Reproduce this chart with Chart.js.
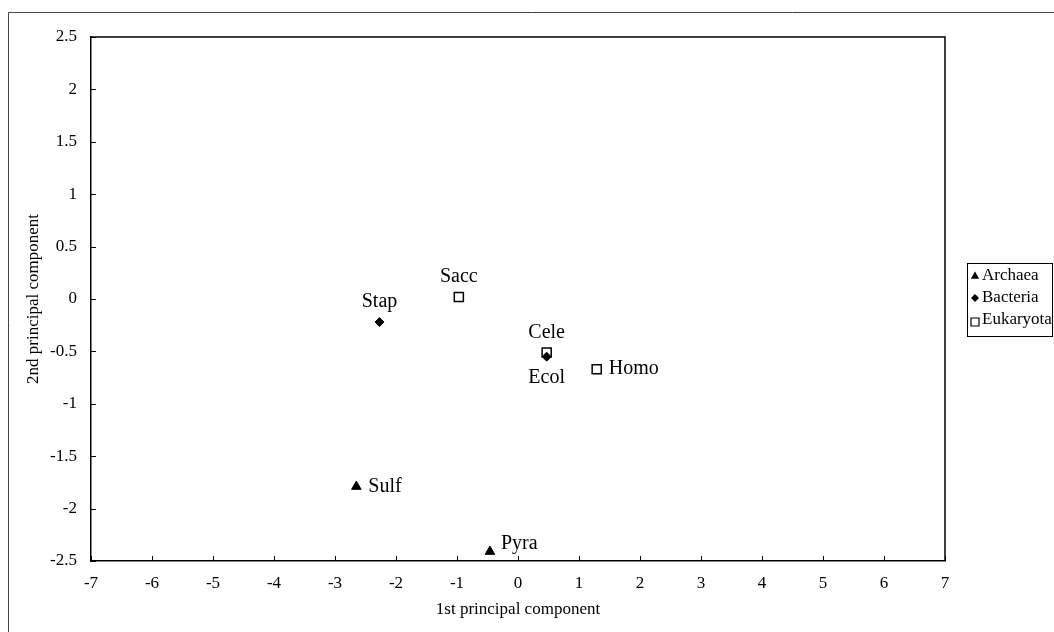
<!DOCTYPE html>
<html>
<head>
<meta charset="utf-8">
<script src="https://cdn.jsdelivr.net/npm/chart.js@4/dist/chart.umd.min.js"></script>
<style>
  html, body { margin: 0; padding: 0; background: #ffffff; }
  canvas { display: block; }
</style>
</head>
<body>
<canvas id="pca" width="1054" height="632"></canvas>
<script>
// Principal component scores per organism, grouped by domain
const categories = ['Archaea', 'Bacteria', 'Eukaryota'];

const archaeaNames = ['Sulf', 'Pyra'];
const archaeaX = [-2.65, -0.46];
const archaeaY = [-1.79, -2.41];

const bacteriaNames = ['Stap', 'Ecol'];
const bacteriaX = [-2.27, 0.47];
const bacteriaY = [-0.22, -0.55];

const eukaryotaNames = ['Sacc', 'Cele', 'Homo'];
const eukaryotaX = [-0.97, 0.47, 1.29];
const eukaryotaY = [0.02, -0.51, -0.67];

const xTickValues = [-7, -6, -5, -4, -3, -2, -1, 0, 1, 2, 3, 4, 5, 6, 7];
const yTickValues = [-2.5, -2, -1.5, -1, -0.5, 0, 0.5, 1, 1.5, 2, 2.5];

// Where each organism name sits relative to its marker
const labelSide = {
  Sulf: 'right', Pyra: 'upright', Stap: 'above', Ecol: 'below',
  Sacc: 'above', Cele: 'above', Homo: 'right'
};

const SERIF = "'Liberation Serif', 'Times New Roman', serif";
Chart.defaults.font.family = SERIF;
Chart.defaults.color = '#000000';

const toPoints = (xs, ys) => xs.map((x, i) => ({ x: x, y: ys[i] }));

const datasets = [
  {
    label: categories[0], names: archaeaNames,
    data: toPoints(archaeaX, archaeaY),
    pointStyle: 'triangle', pointRadius: 5.5,
    backgroundColor: '#000000', borderColor: '#000000', borderWidth: 1
  },
  {
    label: categories[1], names: bacteriaNames,
    data: toPoints(bacteriaX, bacteriaY),
    pointStyle: 'rectRot', pointRadius: 4.5,
    backgroundColor: '#000000', borderColor: '#000000', borderWidth: 1
  },
  {
    label: categories[2], names: eukaryotaNames,
    data: toPoints(eukaryotaX, eukaryotaY),
    pointStyle: 'rect', pointRadius: 6.4,
    backgroundColor: 'rgba(0,0,0,0)', borderColor: '#000000', borderWidth: 1.5
  }
];

// Outer frame, plot box, inward tick marks, point names and the legend
const decorations = {
  id: 'decorations',
  beforeDraw(chart) {
    const ctx = chart.ctx;
    ctx.save();
    ctx.fillStyle = '#ffffff';
    ctx.fillRect(0, 0, chart.width, chart.height);
    ctx.strokeStyle = '#444444';
    ctx.lineWidth = 1;
    ctx.beginPath();
    ctx.moveTo(8.5, chart.height);
    ctx.lineTo(8.5, 12.5);
    ctx.lineTo(chart.width, 12.5);
    ctx.stroke();
    ctx.restore();
  },
  afterDraw(chart) {
    const ctx = chart.ctx;
    const a = chart.chartArea;
    const xs = chart.scales.x;
    const ys = chart.scales.y;
    ctx.save();
    ctx.strokeStyle = '#000000';
    ctx.lineWidth = 1.5;
    ctx.beginPath();
    ctx.moveTo(a.left, a.top);
    ctx.lineTo(a.right, a.top);
    ctx.lineTo(a.right, a.bottom);
    ctx.stroke();

    ctx.lineWidth = 1;
    ctx.beginPath();
    xTickValues.forEach(v => {
      const px = Math.round(xs.getPixelForValue(v)) + 0.5;
      ctx.moveTo(px, a.bottom);
      ctx.lineTo(px, a.bottom - 5);
    });
    yTickValues.forEach(v => {
      const py = Math.round(ys.getPixelForValue(v)) + 0.5;
      ctx.moveTo(a.left, py);
      ctx.lineTo(a.left + 5, py);
    });
    ctx.stroke();

    // organism names
    ctx.fillStyle = '#000000';
    ctx.font = '20px ' + SERIF;
    chart.data.datasets.forEach((ds, di) => {
      const meta = chart.getDatasetMeta(di);
      meta.data.forEach((el, i) => {
        const name = ds.names[i];
        const side = labelSide[name];
        let tx = el.x, ty = el.y;
        ctx.textBaseline = 'middle';
        if (side === 'above') { ctx.textAlign = 'center'; ty -= 20; }
        else if (side === 'below') { ctx.textAlign = 'center'; ty += 21; }
        else if (side === 'right') { ctx.textAlign = 'left'; tx += 12; }
        else if (side === 'upright') { ctx.textAlign = 'left'; tx += 11; ty -= 8; }
        ctx.fillText(name, tx, ty);
      });
    });

    // legend
    const lx = 967, ly = 263, lw = 85, lh = 73, row = 22;
    ctx.lineWidth = 1;
    ctx.strokeStyle = '#000000';
    ctx.strokeRect(lx + 0.5, ly + 0.5, lw, lh);
    ctx.font = '17px ' + SERIF;
    ctx.textAlign = 'left';
    ctx.textBaseline = 'middle';
    chart.data.datasets.forEach((ds, i) => {
      const cy = ly + 13 + i * row;
      const mx = lx + 8;
      ctx.beginPath();
      if (ds.pointStyle === 'triangle') {
        ctx.moveTo(mx, cy - 4.5);
        ctx.lineTo(mx + 4.2, cy + 2.8);
        ctx.lineTo(mx - 4.2, cy + 2.8);
        ctx.closePath();
        ctx.fill();
      } else if (ds.pointStyle === 'rectRot') {
        ctx.moveTo(mx, cy - 4);
        ctx.lineTo(mx + 4, cy);
        ctx.lineTo(mx, cy + 4);
        ctx.lineTo(mx - 4, cy);
        ctx.closePath();
        ctx.fill();
      } else {
        ctx.lineWidth = 1.2;
        ctx.rect(mx - 4, cy - 2, 8, 8);
        ctx.stroke();
      }
      ctx.fillText(ds.label, lx + 15, cy);
    });
    ctx.restore();
  }
};

new Chart(document.getElementById('pca'), {
  type: 'scatter',
  data: { datasets: datasets },
  plugins: [decorations],
  options: {
    responsive: false,
    animation: false,
    devicePixelRatio: 1,
    layout: { padding: { left: 0, right: 109, top: 37, bottom: 0 } },
    plugins: { legend: { display: false }, tooltip: { enabled: false } },
    scales: {
      x: {
        type: 'linear', position: 'bottom', min: -7, max: 7,
        afterBuildTicks: s => { s.ticks = xTickValues.map(v => ({ value: v })); },
        afterFit: s => { s.height = 71; },
        grid: { display: false, drawTicks: false },
        border: { display: true, color: '#000000', width: 1.5 },
        ticks: { font: { size: 17 }, padding: 12, maxRotation: 0, callback: v => String(v) },
        title: { display: true, text: '1st principal component', font: { size: 17 }, padding: { top: 12, bottom: 12 } }
      },
      y: {
        type: 'linear', position: 'left', min: -2.5, max: 2.5,
        afterBuildTicks: s => { s.ticks = yTickValues.map(v => ({ value: v })); },
        afterFit: s => { s.width = 91; },
        grid: { display: false, drawTicks: false },
        border: { display: true, color: '#000000', width: 1.5 },
        ticks: { font: { size: 17 }, padding: 14, callback: v => String(v) },
        title: { display: true, text: '2nd principal component', font: { size: 17 }, padding: { top: 23, bottom: 23 } }
      }
    }
  }
});
</script>
</body>
</html>
